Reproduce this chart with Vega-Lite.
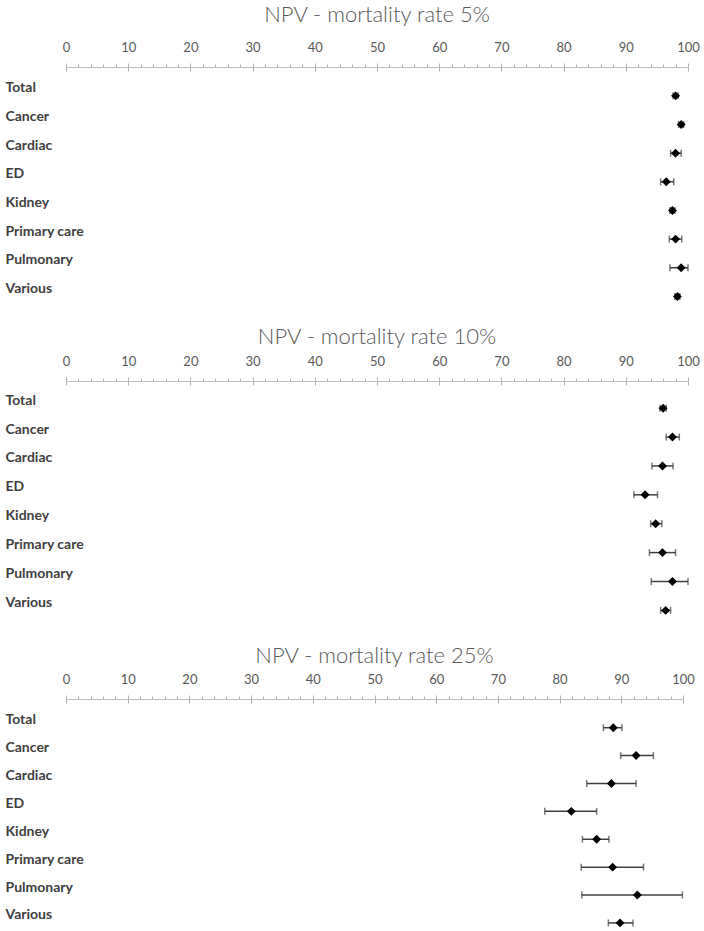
{
  "$schema": "https://vega.github.io/schema/vega-lite/v6.json",
  "background": "white",
  "padding": {"left": 5, "top": 4, "right": 5, "bottom": 0},
  "config": {
    "view": {"stroke": null},
    "concat": {"spacing": 4},
    "title": {"font": "Lato", "fontSize": 22, "fontWeight": 300, "color": "#595959", "anchor": "middle"},
    "axisX": {"title": null, "grid": false, "domainColor": "#bfbfbf", "tickColor": "#b0b0b0", "tickWidth": 1, "labelFont": "Lato", "labelFontSize": 13, "labelColor": "#595959", "labelFlush": false, "labelOverlap": false},
    "axisY": {"title": null, "grid": false, "domain": false, "ticks": false, "tickSize": 0, "labelAlign": "left", "labelFont": "Lato", "labelFontWeight": "bold", "labelFontSize": 14, "labelColor": "#404040", "labelOverlap": false, "labelOffset": -8, "labelPadding": 61}
  },
  "data": {"values": [
    {"panel": "5", "cat": "Total", "npv": 98.0, "lo": 97.6, "hi": 98.4},
    {"panel": "5", "cat": "Cancer", "npv": 98.9, "lo": 98.5, "hi": 99.3},
    {"panel": "5", "cat": "Cardiac", "npv": 98.0, "lo": 97.2, "hi": 98.9},
    {"panel": "5", "cat": "\u00a0ED", "npv": 96.5, "lo": 95.6, "hi": 97.7},
    {"panel": "5", "cat": "Kidney", "npv": 97.5, "lo": 97.1, "hi": 97.9},
    {"panel": "5", "cat": "Primary care", "npv": 98.0, "lo": 97.0, "hi": 99.0},
    {"panel": "5", "cat": "Pulmonary", "npv": 98.9, "lo": 97.1, "hi": 100.0},
    {"panel": "5", "cat": "Various", "npv": 98.3, "lo": 97.9, "hi": 98.7},
    {"panel": "10", "cat": "Total", "npv": 96.0, "lo": 95.5, "hi": 96.5},
    {"panel": "10", "cat": "Cancer", "npv": 97.5, "lo": 96.5, "hi": 98.6},
    {"panel": "10", "cat": "Cardiac", "npv": 95.9, "lo": 94.2, "hi": 97.6},
    {"panel": "10", "cat": "\u00a0ED", "npv": 93.1, "lo": 91.3, "hi": 95.1},
    {"panel": "10", "cat": "Kidney", "npv": 94.8, "lo": 94.0, "hi": 95.8},
    {"panel": "10", "cat": "Primary care", "npv": 95.9, "lo": 93.8, "hi": 98.0},
    {"panel": "10", "cat": "Pulmonary", "npv": 97.5, "lo": 94.1, "hi": 100.0},
    {"panel": "10", "cat": "Various", "npv": 96.4, "lo": 95.6, "hi": 97.2},
    {"panel": "25", "cat": "Total", "npv": 88.7, "lo": 87.1, "hi": 90.1},
    {"panel": "25", "cat": "Cancer", "npv": 92.4, "lo": 89.9, "hi": 95.2},
    {"panel": "25", "cat": "Cardiac", "npv": 88.4, "lo": 84.4, "hi": 92.4},
    {"panel": "25", "cat": "\u00a0ED", "npv": 81.9, "lo": 77.6, "hi": 86.0},
    {"panel": "25", "cat": "Kidney", "npv": 86.0, "lo": 83.7, "hi": 88.0},
    {"panel": "25", "cat": "Primary care", "npv": 88.6, "lo": 83.5, "hi": 93.6},
    {"panel": "25", "cat": "Pulmonary", "npv": 92.6, "lo": 83.6, "hi": 99.9},
    {"panel": "25", "cat": "Various", "npv": 89.8, "lo": 87.9, "hi": 91.9}
  ]},
  "vconcat": [
    {
      "title": {"text": "NPV - mortality rate 5%", "offset": 14},
      "width": 622, "height": 255,
      "transform": [{"filter": "datum.panel === '5'"}],
      "resolve": {"axis": {"x": "independent"}},
      "encoding": {
        "y": {"field": "cat", "type": "nominal", "sort": null, "scale": {"type": "point", "padding": 0.95, "align": 0.53}}
      },
      "layer": [
        {"mark": {"type": "rule", "color": "#404040", "strokeWidth": 1.5},
         "encoding": {"x": {"field": "lo", "type": "quantitative", "scale": {"domain": [0, 100], "nice": false, "zero": false},
           "axis": {"orient": "top", "values": [0,2,4,6,8,10,12,14,16,18,20,22,24,26,28,30,32,34,36,38,40,42,44,46,48,50,52,54,56,58,60,62,64,66,68,70,72,74,76,78,80,82,84,86,88,90,92,94,96,98,100],
             "tickSize": {"condition": {"test": "datum.value % 10 === 0", "value": 4}, "value": 3},
             "labelExpr": "datum.value % 10 === 0 ? datum.label : ''", "labelPadding": 9}},
           "x2": {"field": "hi"}}},
        {"mark": {"type": "tick", "color": "#404040", "thickness": 1.5, "size": 7},
         "encoding": {"x": {"field": "lo", "type": "quantitative",
           "axis": {"orient": "bottom", "offset": -255, "values": [0,10,20,30,40,50,60,70,80,90,100], "domain": false, "labels": false, "tickSize": 4}}}},
        {"mark": {"type": "tick", "color": "#404040", "thickness": 1.5, "size": 7},
         "encoding": {"x": {"field": "hi", "type": "quantitative", "axis": null}}},
        {"mark": {"type": "point", "shape": "diamond", "filled": true, "color": "black", "opacity": 1, "size": 80},
         "encoding": {"x": {"field": "npv", "type": "quantitative", "axis": null}}}
      ]
    },
    {
      "title": {"text": "NPV - mortality rate 10%", "offset": 6},
      "width": 622, "height": 260,
      "transform": [{"filter": "datum.panel === '10'"}],
      "resolve": {"axis": {"x": "independent"}},
      "encoding": {
        "y": {"field": "cat", "type": "nominal", "sort": null, "scale": {"type": "point", "padding": 1.125, "align": 0.47}}
      },
      "layer": [
        {"mark": {"type": "rule", "color": "#404040", "strokeWidth": 1.5},
         "encoding": {"x": {"field": "lo", "type": "quantitative", "scale": {"domain": [0, 100], "nice": false, "zero": false},
           "axis": {"orient": "top", "values": [0,2,4,6,8,10,12,14,16,18,20,22,24,26,28,30,32,34,36,38,40,42,44,46,48,50,52,54,56,58,60,62,64,66,68,70,72,74,76,78,80,82,84,86,88,90,92,94,96,98,100],
             "tickSize": {"condition": {"test": "datum.value % 10 === 0", "value": 4}, "value": 3},
             "labelExpr": "datum.value % 10 === 0 ? datum.label : ''", "labelPadding": 9}},
           "x2": {"field": "hi"}}},
        {"mark": {"type": "tick", "color": "#404040", "thickness": 1.5, "size": 7},
         "encoding": {"x": {"field": "lo", "type": "quantitative",
           "axis": {"orient": "bottom", "offset": -260, "values": [0,10,20,30,40,50,60,70,80,90,100], "domain": false, "labels": false, "tickSize": 4}}}},
        {"mark": {"type": "tick", "color": "#404040", "thickness": 1.5, "size": 7},
         "encoding": {"x": {"field": "hi", "type": "quantitative", "axis": null}}},
        {"mark": {"type": "point", "shape": "diamond", "filled": true, "color": "black", "opacity": 1, "size": 80},
         "encoding": {"x": {"field": "npv", "type": "quantitative", "axis": null}}}
      ]
    },
    {
      "title": {"text": "NPV - mortality rate 25%", "offset": 5},
      "width": 617, "height": 232,
      "transform": [{"filter": "datum.panel === '25'"}],
      "resolve": {"axis": {"x": "independent"}},
      "encoding": {
        "y": {"field": "cat", "type": "nominal", "sort": null, "scale": {"type": "point", "padding": 0.66, "align": 0.78}}
      },
      "layer": [
        {"mark": {"type": "rule", "color": "#404040", "strokeWidth": 1.5},
         "encoding": {"x": {"field": "lo", "type": "quantitative", "scale": {"domain": [0, 100], "nice": false, "zero": false},
           "axis": {"orient": "top", "values": [0,2,4,6,8,10,12,14,16,18,20,22,24,26,28,30,32,34,36,38,40,42,44,46,48,50,52,54,56,58,60,62,64,66,68,70,72,74,76,78,80,82,84,86,88,90,92,94,96,98,100],
             "tickSize": {"condition": {"test": "datum.value % 10 === 0", "value": 4}, "value": 3},
             "labelExpr": "datum.value % 10 === 0 ? datum.label : ''", "labelPadding": 9}},
           "x2": {"field": "hi"}}},
        {"mark": {"type": "tick", "color": "#404040", "thickness": 1.5, "size": 7},
         "encoding": {"x": {"field": "lo", "type": "quantitative",
           "axis": {"orient": "bottom", "offset": -232, "values": [0,10,20,30,40,50,60,70,80,90,100], "domain": false, "labels": false, "tickSize": 4}}}},
        {"mark": {"type": "tick", "color": "#404040", "thickness": 1.5, "size": 7},
         "encoding": {"x": {"field": "hi", "type": "quantitative", "axis": null}}},
        {"mark": {"type": "point", "shape": "diamond", "filled": true, "color": "black", "opacity": 1, "size": 80},
         "encoding": {"x": {"field": "npv", "type": "quantitative", "axis": null}}}
      ]
    }
  ]
}
